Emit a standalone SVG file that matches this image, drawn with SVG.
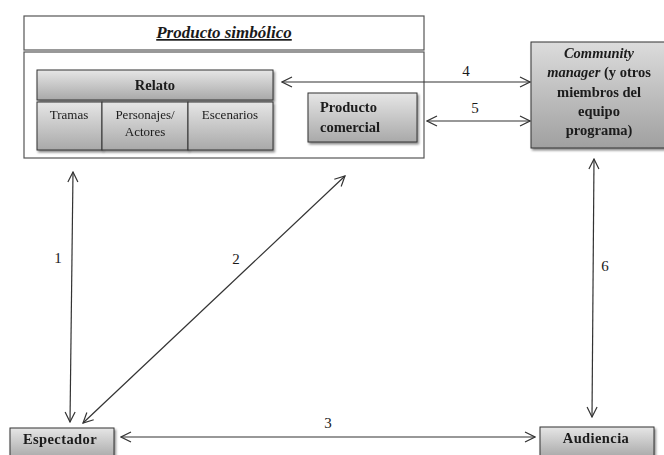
<svg xmlns="http://www.w3.org/2000/svg" width="664" height="455" viewBox="0 0 664 455">
<style>
text{font-family:"Liberation Serif","Times New Roman",serif;fill:#1a1a1a}
.b{font-weight:bold}
.n{font-size:13px}
.m{font-size:14.5px;font-weight:bold}
.box{fill:url(#g);stroke:#333;stroke-width:1}
.frame{fill:#fff;stroke:#555;stroke-width:1.2}
.c line{stroke:#333;stroke-width:1.2;marker-end:url(#ah);marker-start:url(#ah)}
.lbl{font-size:15px}
</style>
<defs>
<linearGradient id="g" x1="0" y1="0" x2="0" y2="1">
<stop offset="0" stop-color="#e6e6e6"/>
<stop offset="1" stop-color="#a9a9a9"/>
</linearGradient>
<linearGradient id="g2" x1="0" y1="0" x2="0" y2="1">
<stop offset="0" stop-color="#dcdcdc"/>
<stop offset="1" stop-color="#a0a0a0"/>
</linearGradient>
<filter id="sh" x="-10%" y="-10%" width="130%" height="140%">
<feDropShadow dx="1.5" dy="2" stdDeviation="1.2" flood-color="#000" flood-opacity="0.45"/>
</filter>
<marker id="ah" viewBox="0 0 12 12" refX="11" refY="6" markerWidth="12" markerHeight="12" markerUnits="userSpaceOnUse" orient="auto-start-reverse">
<path d="M1,1 L11,6 L1,11" fill="none" stroke="#333" stroke-width="1.2"/>
</marker>
</defs>

<g id="producto-simbolico">
<rect class="frame" x="24" y="16" width="400" height="34"/>
<text x="224" y="38" text-anchor="middle" font-size="17" font-weight="bold" font-style="italic" text-decoration="underline">Producto simbólico</text>
<rect class="frame" x="24" y="52" width="400" height="106"/>
</g>

<g id="relato" filter="url(#sh)">
<rect class="box" x="37" y="70" width="236" height="30"/>
<text x="155" y="90" text-anchor="middle" class="m" font-size="15">Relato</text>
</g>
<g id="tramas" filter="url(#sh)">
<rect class="box" x="37" y="102" width="65" height="48"/>
<text x="69" y="119" text-anchor="middle" class="n">Tramas</text>
</g>
<g id="personajes" filter="url(#sh)">
<rect class="box" x="102" y="102" width="86" height="48"/>
<text x="145" y="119" text-anchor="middle" class="n">Personajes/</text>
<text x="145" y="136" text-anchor="middle" class="n">Actores</text>
</g>
<g id="escenarios" filter="url(#sh)">
<rect class="box" x="188" y="102" width="85" height="48"/>
<text x="230" y="119" text-anchor="middle" class="n">Escenarios</text>
</g>
<g id="producto-comercial" filter="url(#sh)">
<rect class="box" x="308" y="93" width="109" height="49"/>
<text x="320" y="112" class="m">Producto</text>
<text x="320" y="132" class="m">comercial</text>
</g>

<g id="community-manager" filter="url(#sh)">
<rect x="531" y="42" width="134" height="106" fill="url(#g2)" stroke="#333"/>
<text x="599" y="58" text-anchor="middle" class="m" font-style="italic">Community</text>
<text x="599" y="77" text-anchor="middle" class="m"><tspan font-style="italic">manager</tspan> (y otros</text>
<text x="599" y="97" text-anchor="middle" class="m">miembros del</text>
<text x="599" y="116" text-anchor="middle" class="m">equipo</text>
<text x="599" y="135" text-anchor="middle" class="m">programa)</text>
</g>

<g id="espectador" filter="url(#sh)">
<rect class="box" x="10" y="428" width="104" height="30"/>
<text x="60" y="444" text-anchor="middle" class="m" font-size="15" letter-spacing="0.4">Espectador</text>
</g>
<g id="audiencia" filter="url(#sh)">
<rect class="box" x="540" y="427" width="114" height="30"/>
<text x="596" y="443" text-anchor="middle" class="m" font-size="15" letter-spacing="0.4">Audiencia</text>
</g>

<g id="connectors" class="c">
<line x1="70" y1="422" x2="73" y2="172"/>
<line x1="83" y1="423" x2="345" y2="176"/>
<line x1="121" y1="437" x2="535" y2="437"/>
<line x1="282" y1="82" x2="530" y2="82"/>
<line x1="427" y1="121" x2="530" y2="121"/>
<line x1="592" y1="417" x2="594" y2="159"/>
</g>
<g id="labels">
<text class="lbl" x="58" y="263" text-anchor="middle">1</text>
<text class="lbl" x="236" y="264" text-anchor="middle">2</text>
<text class="lbl" x="328" y="428" text-anchor="middle">3</text>
<text class="lbl" x="466" y="76" text-anchor="middle">4</text>
<text class="lbl" x="475" y="113" text-anchor="middle">5</text>
<text class="lbl" x="605" y="271" text-anchor="middle">6</text>
</g>
</svg>
